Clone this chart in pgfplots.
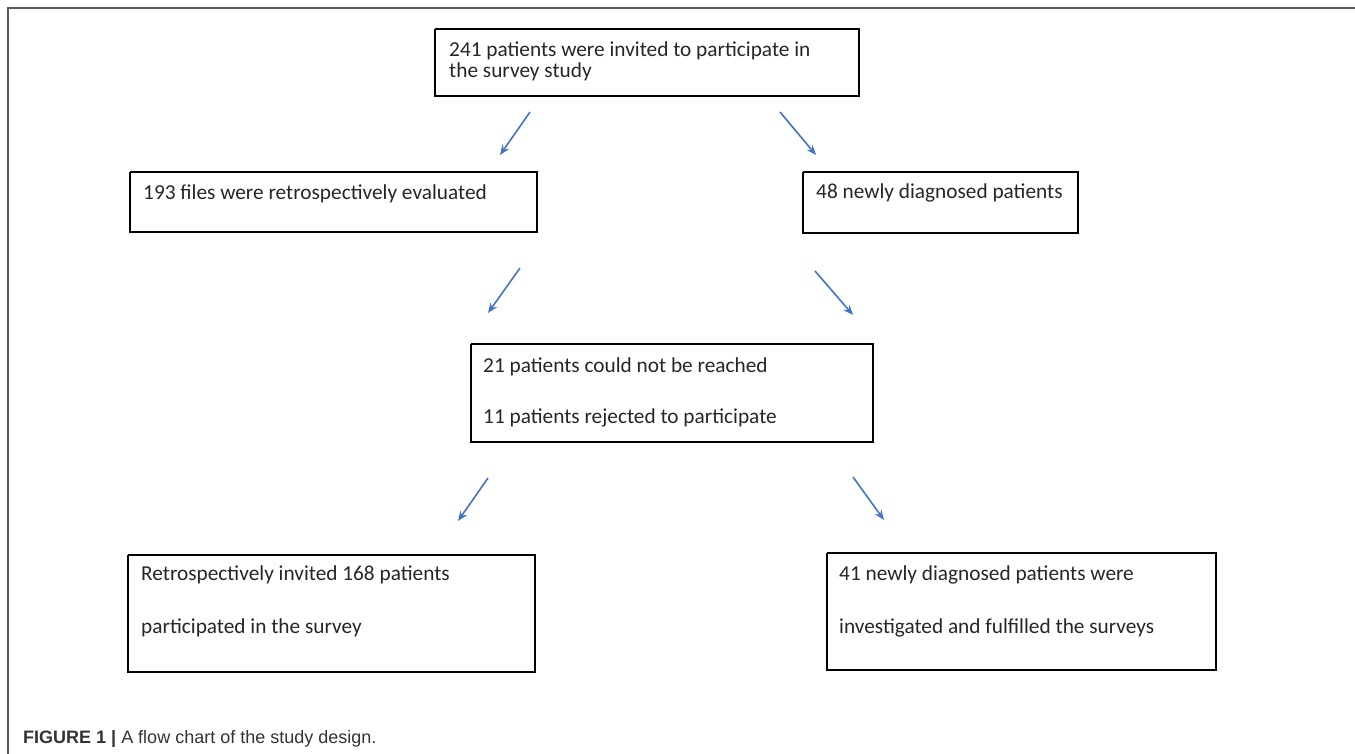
\documentclass[border=0pt]{standalone}
\usepackage{pgfplots}
\pgfplotsset{compat=1.18}
\usetikzlibrary{arrows.meta}
\usepackage{fontspec}
\setmainfont{Carlito}
\newfontfamily\capfont{Liberation Sans}
\definecolor{arrowblue}{HTML}{4472C4}
\definecolor{framegray}{HTML}{5A5A5A}
\begin{document}
\begin{tikzpicture}
\begin{axis}[
    name=ax,
    width=1355pt, height=754pt,
    scale only axis,
    xmin=0, xmax=1355, ymin=0, ymax=754,
    y dir=reverse,
    hide axis,
    clip=false,
]
% frame
\addplot[framegray, line width=1.5pt] coordinates {(1355,8) (8,8) (8,754)};

% boxes
\addplot[black, line width=1.4pt] coordinates {(435,29) (859,29) (859,96) (435,96) (435,29)};
\addplot[black, line width=1.4pt] coordinates {(130,172) (537,172) (537,232) (130,232) (130,172)};
\addplot[black, line width=1.4pt] coordinates {(803,172) (1078,172) (1078,233) (803,233) (803,172)};
\addplot[black, line width=1.4pt] coordinates {(471,344) (873,344) (873,442) (471,442) (471,344)};
\addplot[black, line width=1.4pt] coordinates {(128,555) (535,555) (535,672) (128,672) (128,555)};
\addplot[black, line width=1.4pt] coordinates {(827,553) (1216,553) (1216,670) (827,670) (827,553)};

% arrows
\pgfplotsset{arr/.style={arrowblue, line width=1.6pt, -{Stealth[length=10pt,width=8pt]}}}
\addplot[arr] coordinates {(530,112) (500,155)};
\addplot[arr] coordinates {(780,112) (816,155)};
\addplot[arr] coordinates {(520,268) (488,313)};
\addplot[arr] coordinates {(815,271) (853,315)};
\addplot[arr] coordinates {(488,478) (458,521)};
\addplot[arr] coordinates {(853,477) (884,520)};

% box texts
\tikzset{bt/.style={anchor=base west, inner sep=0pt, font=\fontsize{21.3}{24}\selectfont, text=black!85}}
\node[bt] at (axis cs:449,57) {241 patients were invited to participate in};
\node[bt] at (axis cs:449,78) {the survey study};
\node[bt] at (axis cs:143,200) {193 files were retrospectively evaluated};
\node[bt] at (axis cs:816,199) {48 newly diagnosed patients};
\node[bt] at (axis cs:483,372) {21 patients could not be reached};
\node[bt] at (axis cs:483,423) {11 patients rejected to participate};
\node[bt] at (axis cs:141,580) {Retrospectively invited 168 patients};
\node[bt] at (axis cs:141,633) {participated in the survey};
\node[bt] at (axis cs:839,580) {41 newly diagnosed patients were};
\node[bt] at (axis cs:839,633) {investigated and fulfilled the surveys};

% caption
\node[anchor=base west, inner sep=0pt, font=\capfont\fontsize{18}{21}\selectfont, text=black!80] at (axis cs:23,743)
  {\textbf{FIGURE 1 |} A flow chart of the study design.};
\end{axis}
\pgfresetboundingbox
\path[use as bounding box] (ax.south west) rectangle (ax.north east);
\end{tikzpicture}
\end{document}
